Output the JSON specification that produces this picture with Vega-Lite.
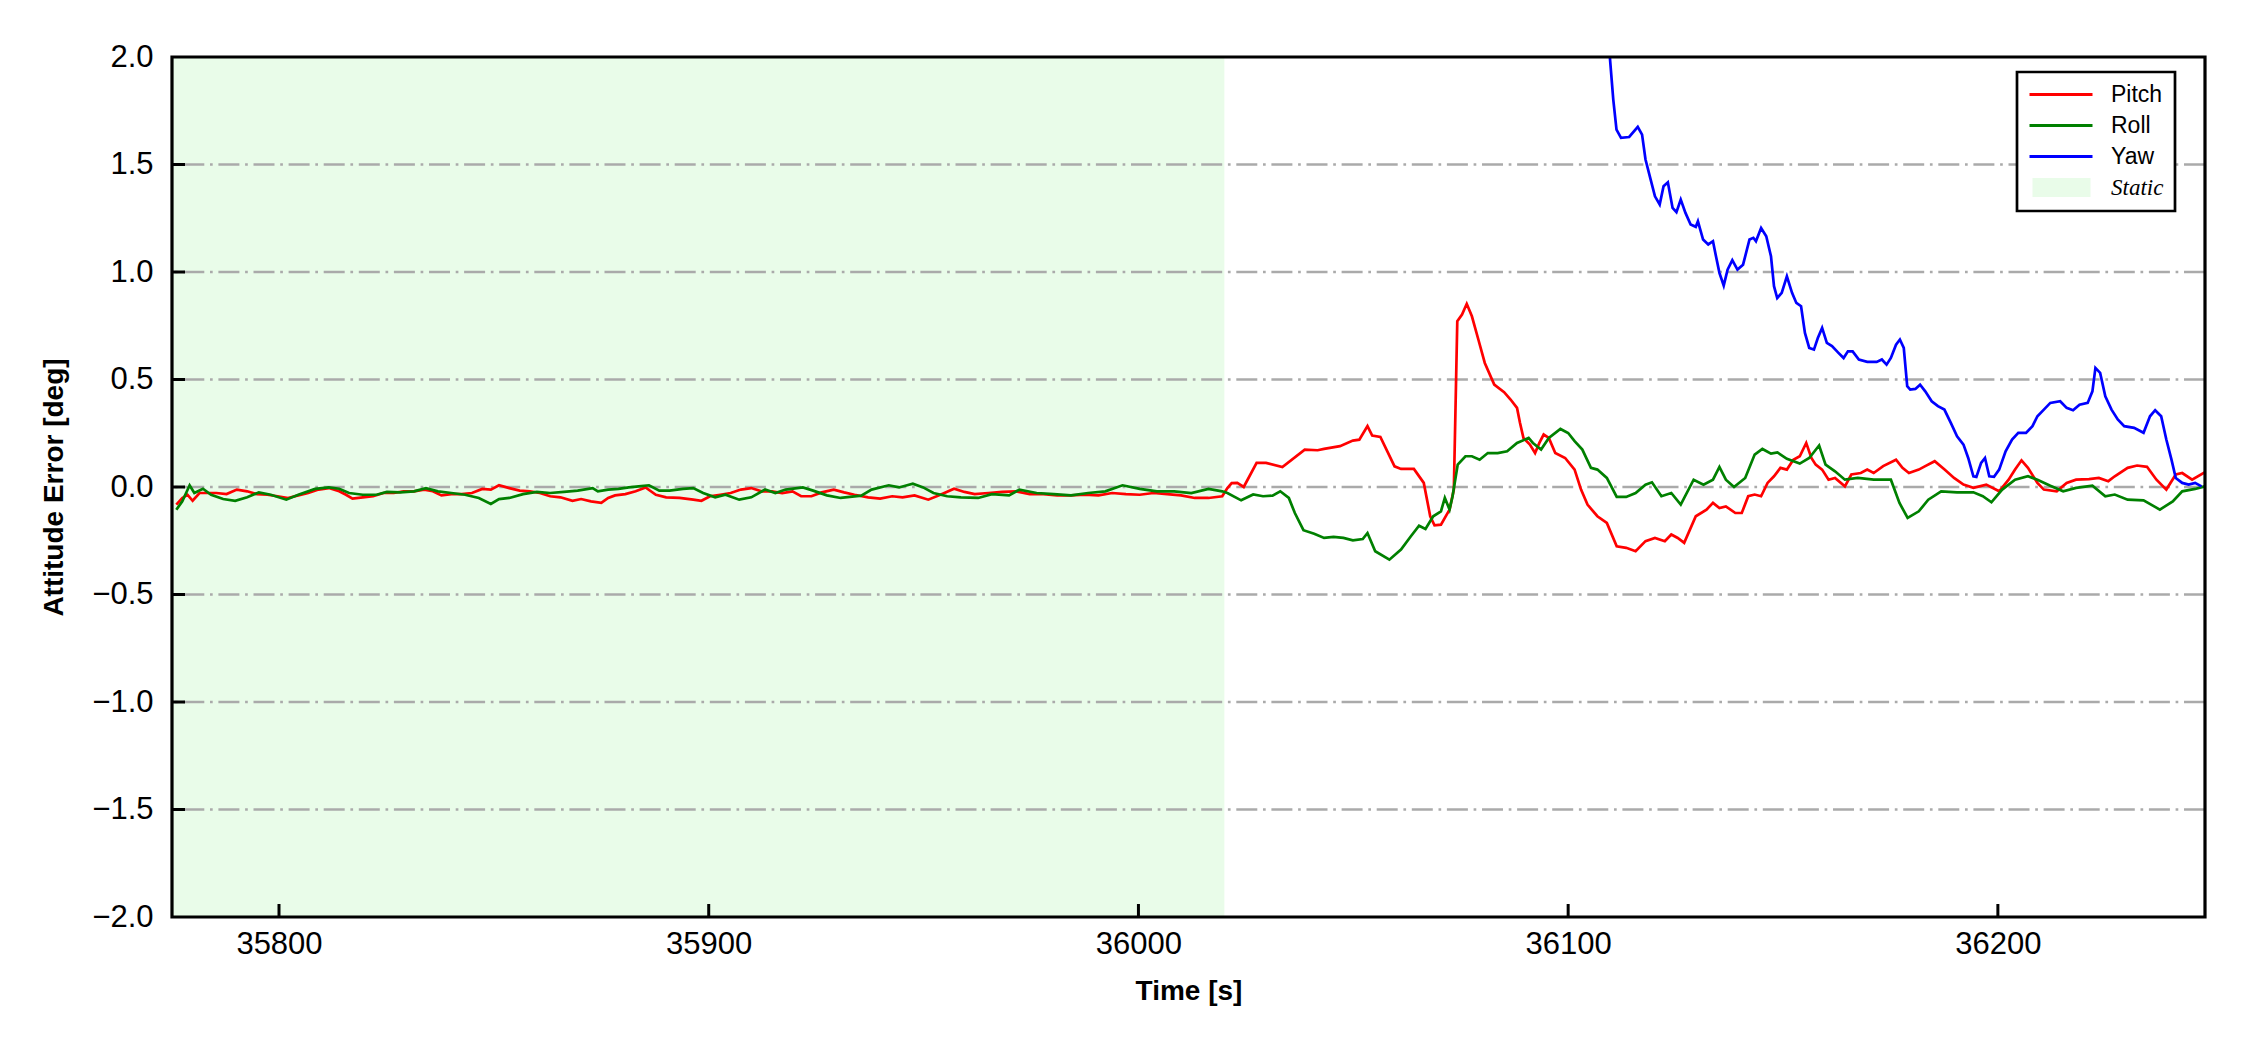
{
  "$schema": "https://vega.github.io/schema/vega-lite/v6.json",
  "width": 2033,
  "height": 860,
  "autosize": {"type": "none"},
  "padding": {"left": 172, "top": 57, "right": 45, "bottom": 133},
  "background": "white",
  "config": {
    "font": "Liberation Sans",
    "view": {"stroke": null},
    "axis": {
      "grid": false,
      "labelFont": "Liberation Sans",
      "titleFont": "Liberation Sans",
      "labelFontSize": 31,
      "titleFontSize": 28,
      "titleFontWeight": "bold",
      "labelOverlap": false,
      "labelColor": "black",
      "titleColor": "black",
      "zindex": 1
    }
  },
  "datasets": {
    "static": [{"start": 35775.1, "end": 36020, "s": "Static"}],
    "grid": [{"g": -1.5}, {"g": -1.0}, {"g": -0.5}, {"g": 0.0}, {"g": 0.5}, {"g": 1.0}, {"g": 1.5}],
    "xticks": [{"x": 35800}, {"x": 35900}, {"x": 36000}, {"x": 36100}, {"x": 36200}],
    "frame": [{"x0": 35775.1, "x1": 36248.2, "y0": -2, "y1": 2}],
    "att": [
      {"s":"Pitch","t":35776.1,"v":-0.082},{"s":"Pitch","t":35777.5,"v":-0.051},{"s":"Pitch","t":35778.7,"v":-0.036},{"s":"Pitch","t":35779.9,"v":-0.064},{"s":"Pitch","t":35781.5,"v":-0.028},{"s":"Pitch","t":35783.0,"v":-0.028},{"s":"Pitch","t":35785.4,"v":-0.028},{"s":"Pitch","t":35787.8,"v":-0.033},{"s":"Pitch","t":35790.2,"v":-0.012},{"s":"Pitch","t":35792.6,"v":-0.020},{"s":"Pitch","t":35794.9,"v":-0.033},{"s":"Pitch","t":35797.3,"v":-0.036},{"s":"Pitch","t":35799.7,"v":-0.043},{"s":"Pitch","t":35802.1,"v":-0.051},{"s":"Pitch","t":35804.5,"v":-0.039},{"s":"Pitch","t":35806.8,"v":-0.028},{"s":"Pitch","t":35809.2,"v":-0.012},{"s":"Pitch","t":35811.6,"v":-0.005},{"s":"Pitch","t":35814.0,"v":-0.020},{"s":"Pitch","t":35815.6,"v":-0.036},{"s":"Pitch","t":35817.1,"v":-0.054},{"s":"Pitch","t":35819.5,"v":-0.048},{"s":"Pitch","t":35821.9,"v":-0.043},{"s":"Pitch","t":35824.3,"v":-0.028},{"s":"Pitch","t":35826.7,"v":-0.028},{"s":"Pitch","t":35829.0,"v":-0.020},{"s":"Pitch","t":35831.4,"v":-0.020},{"s":"Pitch","t":35833.8,"v":-0.012},{"s":"Pitch","t":35835.8,"v":-0.020},{"s":"Pitch","t":35837.8,"v":-0.039},{"s":"Pitch","t":35840.1,"v":-0.033},{"s":"Pitch","t":35842.5,"v":-0.033},{"s":"Pitch","t":35844.9,"v":-0.028},{"s":"Pitch","t":35847.3,"v":-0.009},{"s":"Pitch","t":35849.3,"v":-0.012},{"s":"Pitch","t":35851.2,"v":0.008},{"s":"Pitch","t":35853.6,"v":-0.005},{"s":"Pitch","t":35856.0,"v":-0.017},{"s":"Pitch","t":35858.4,"v":-0.020},{"s":"Pitch","t":35860.7,"v":-0.028},{"s":"Pitch","t":35863.1,"v":-0.043},{"s":"Pitch","t":35865.5,"v":-0.048},{"s":"Pitch","t":35868.3,"v":-0.064},{"s":"Pitch","t":35870.3,"v":-0.056},{"s":"Pitch","t":35872.6,"v":-0.067},{"s":"Pitch","t":35875.0,"v":-0.074},{"s":"Pitch","t":35876.6,"v":-0.051},{"s":"Pitch","t":35878.2,"v":-0.039},{"s":"Pitch","t":35880.6,"v":-0.033},{"s":"Pitch","t":35883.0,"v":-0.020},{"s":"Pitch","t":35885.3,"v":-0.002},{"s":"Pitch","t":35887.7,"v":-0.036},{"s":"Pitch","t":35890.1,"v":-0.048},{"s":"Pitch","t":35893.2,"v":-0.051},{"s":"Pitch","t":35896.4,"v":-0.059},
      {"s":"Pitch","t":35898.3,"v":-0.064},{"s":"Pitch","t":35900.3,"v":-0.043},{"s":"Pitch","t":35902.7,"v":-0.036},{"s":"Pitch","t":35905.1,"v":-0.028},{"s":"Pitch","t":35907.5,"v":-0.012},{"s":"Pitch","t":35909.9,"v":-0.005},{"s":"Pitch","t":35912.3,"v":-0.020},{"s":"Pitch","t":35914.7,"v":-0.020},{"s":"Pitch","t":35917.1,"v":-0.028},{"s":"Pitch","t":35919.5,"v":-0.020},{"s":"Pitch","t":35921.5,"v":-0.043},{"s":"Pitch","t":35923.9,"v":-0.043},{"s":"Pitch","t":35926.3,"v":-0.025},{"s":"Pitch","t":35929.1,"v":-0.012},{"s":"Pitch","t":35931.5,"v":-0.025},{"s":"Pitch","t":35933.9,"v":-0.036},{"s":"Pitch","t":35937.1,"v":-0.048},{"s":"Pitch","t":35939.9,"v":-0.054},{"s":"Pitch","t":35942.7,"v":-0.043},{"s":"Pitch","t":35945.1,"v":-0.048},{"s":"Pitch","t":35947.9,"v":-0.039},{"s":"Pitch","t":35951.1,"v":-0.059},{"s":"Pitch","t":35953.9,"v":-0.036},{"s":"Pitch","t":35957.1,"v":-0.008},{"s":"Pitch","t":35959.5,"v":-0.023},{"s":"Pitch","t":35961.9,"v":-0.033},{"s":"Pitch","t":35965.1,"v":-0.028},{"s":"Pitch","t":35968.3,"v":-0.023},{"s":"Pitch","t":35971.5,"v":-0.020},{"s":"Pitch","t":35974.7,"v":-0.033},{"s":"Pitch","t":35977.9,"v":-0.033},{"s":"Pitch","t":35981.1,"v":-0.039},{"s":"Pitch","t":35984.3,"v":-0.039},{"s":"Pitch","t":35987.5,"v":-0.036},{"s":"Pitch","t":35990.7,"v":-0.039},{"s":"Pitch","t":35993.9,"v":-0.028},{"s":"Pitch","t":35997.1,"v":-0.033},{"s":"Pitch","t":36000.3,"v":-0.036},{"s":"Pitch","t":36003.5,"v":-0.028},{"s":"Pitch","t":36006.7,"v":-0.033},{"s":"Pitch","t":36009.9,"v":-0.039},{"s":"Pitch","t":36013.1,"v":-0.051},{"s":"Pitch","t":36016.3,"v":-0.051},{"s":"Pitch","t":36019.5,"v":-0.043},{"s":"Pitch","t":36020.7,"v":-0.005},{"s":"Pitch","t":36021.7,"v":0.018},
      {"s":"Pitch","t":36023.0,"v":0.019},{"s":"Pitch","t":36024.5,"v":0.0},{"s":"Pitch","t":36027.5,"v":0.112},{"s":"Pitch","t":36029.7,"v":0.112},{"s":"Pitch","t":36033.5,"v":0.093},{"s":"Pitch","t":36038.7,"v":0.174},{"s":"Pitch","t":36041.7,"v":0.171},{"s":"Pitch","t":36043.2,"v":0.177},{"s":"Pitch","t":36046.9,"v":0.19},{"s":"Pitch","t":36049.9,"v":0.216},{"s":"Pitch","t":36051.4,"v":0.22},{"s":"Pitch","t":36053.3,"v":0.283},{"s":"Pitch","t":36054.4,"v":0.239},{"s":"Pitch","t":36056.3,"v":0.233},{"s":"Pitch","t":36059.6,"v":0.096},{"s":"Pitch","t":36061.1,"v":0.084},{"s":"Pitch","t":36064.1,"v":0.084},{"s":"Pitch","t":36066.4,"v":0.019},{"s":"Pitch","t":36067.9,"v":-0.136},{"s":"Pitch","t":36068.9,"v":-0.178},{"s":"Pitch","t":36070.4,"v":-0.175},{"s":"Pitch","t":36072.4,"v":-0.105},{"s":"Pitch","t":36073.4,"v":-0.012},{"s":"Pitch","t":36074.2,"v":0.771},{"s":"Pitch","t":36075.3,"v":0.802},{"s":"Pitch","t":36076.4,"v":0.852},{"s":"Pitch","t":36077.6,"v":0.794},{"s":"Pitch","t":36079.1,"v":0.686},{"s":"Pitch","t":36080.6,"v":0.577},{"s":"Pitch","t":36082.8,"v":0.476},{"s":"Pitch","t":36085.1,"v":0.441},{"s":"Pitch","t":36086.6,"v":0.407},{"s":"Pitch","t":36088.1,"v":0.368},{"s":"Pitch","t":36088.8,"v":0.298},{"s":"Pitch","t":36089.6,"v":0.228},{"s":"Pitch","t":36091.1,"v":0.197},{"s":"Pitch","t":36092.3,"v":0.158},{"s":"Pitch","t":36093.3,"v":0.205},{"s":"Pitch","t":36094.3,"v":0.244},{"s":"Pitch","t":36095.5,"v":0.228},{"s":"Pitch","t":36097.0,"v":0.158},{"s":"Pitch","t":36099.3,"v":0.135},{"s":"Pitch","t":36101.5,"v":0.081},{"s":"Pitch","t":36103.0,"v":-0.012},{"s":"Pitch","t":36104.5,"v":-0.082},{"s":"Pitch","t":36106.8,"v":-0.136},{"s":"Pitch","t":36109.0,"v":-0.167},{"s":"Pitch","t":36111.3,"v":-0.276},{"s":"Pitch","t":36113.5,"v":-0.283},{"s":"Pitch","t":36115.7,"v":-0.299},{"s":"Pitch","t":36118.0,"v":-0.252},{"s":"Pitch","t":36120.2,"v":-0.237},{"s":"Pitch","t":36122.5,"v":-0.252},{"s":"Pitch","t":36124.0,"v":-0.221},{"s":"Pitch","t":36125.5,"v":-0.237},{"s":"Pitch","t":36127.0,"v":-0.260},{"s":"Pitch","t":36129.7,"v":-0.136},{"s":"Pitch","t":36132.2,"v":-0.105},{"s":"Pitch","t":36133.7,"v":-0.074},{"s":"Pitch","t":36135.2,"v":-0.098},{"s":"Pitch","t":36136.7,"v":-0.090},{"s":"Pitch","t":36138.9,"v":-0.121},{"s":"Pitch","t":36140.4,"v":-0.121},{"s":"Pitch","t":36141.9,"v":-0.043},{"s":"Pitch","t":36143.4,"v":-0.035},{"s":"Pitch","t":36144.9,"v":-0.043},{"s":"Pitch","t":36146.4,"v":0.019},{"s":"Pitch","t":36147.9,"v":0.050},{"s":"Pitch","t":36149.4,"v":0.089},{"s":"Pitch","t":36150.9,"v":0.081},{"s":"Pitch","t":36152.4,"v":0.127},{"s":"Pitch","t":36153.9,"v":0.143},{"s":"Pitch","t":36155.4,"v":0.205},{"s":"Pitch","t":36156.6,"v":0.135},{"s":"Pitch","t":36157.6,"v":0.104},{"s":"Pitch","t":36159.1,"v":0.081},{"s":"Pitch","t":36160.6,"v":0.034},{"s":"Pitch","t":36162.1,"v":0.042},{"s":"Pitch","t":36164.4,"v":0.003},{"s":"Pitch","t":36165.9,"v":0.058},{"s":"Pitch","t":36168.1,"v":0.065},{"s":"Pitch","t":36169.6,"v":0.081},{"s":"Pitch","t":36171.1,"v":0.065},{"s":"Pitch","t":36173.3,"v":0.097},{"s":"Pitch","t":36176.3,"v":0.127},{"s":"Pitch","t":36177.8,"v":0.089},{"s":"Pitch","t":36179.3,"v":0.065},{"s":"Pitch","t":36181.6,"v":0.081},{"s":"Pitch","t":36183.1,"v":0.097},{"s":"Pitch","t":36185.3,"v":0.120},{"s":"Pitch","t":36187.6,"v":0.081},{"s":"Pitch","t":36189.8,"v":0.042},{"s":"Pitch","t":36192.0,"v":0.011},{"s":"Pitch","t":36194.3,"v":-0.004},{"s":"Pitch","t":36197.3,"v":0.011},{"s":"Pitch","t":36200.3,"v":-0.020},{"s":"Pitch","t":36202.5,"v":0.034},{"s":"Pitch","t":36204.0,"v":0.081},{"s":"Pitch","t":36205.5,"v":0.124},{"s":"Pitch","t":36207.0,"v":0.089},{"s":"Pitch","t":36209.2,"v":0.019},{"s":"Pitch","t":36210.7,"v":-0.012},{"s":"Pitch","t":36213.7,"v":-0.020},{"s":"Pitch","t":36216.0,"v":0.019},{"s":"Pitch","t":36218.2,"v":0.034},{"s":"Pitch","t":36221.2,"v":0.037},{"s":"Pitch","t":36223.5,"v":0.042},{"s":"Pitch","t":36225.7,"v":0.027},{"s":"Pitch","t":36227.2,"v":0.050},{"s":"Pitch","t":36230.2,"v":0.089},{"s":"Pitch","t":36232.4,"v":0.100},{"s":"Pitch","t":36234.7,"v":0.094},{"s":"Pitch","t":36236.9,"v":0.034},{"s":"Pitch","t":36239.2,"v":-0.012},{"s":"Pitch","t":36241.4,"v":0.058},{"s":"Pitch","t":36242.9,"v":0.065},{"s":"Pitch","t":36245.2,"v":0.034},{"s":"Pitch","t":36248.1,"v":0.068},
      {"s":"Roll","t":35776.1,"v":-0.106},{"s":"Roll","t":35777.5,"v":-0.067},{"s":"Roll","t":35779.2,"v":0.008},{"s":"Roll","t":35780.3,"v":-0.028},{"s":"Roll","t":35782.3,"v":-0.008},{"s":"Roll","t":35784.2,"v":-0.036},{"s":"Roll","t":35787.0,"v":-0.056},{"s":"Roll","t":35789.8,"v":-0.064},{"s":"Roll","t":35792.6,"v":-0.048},{"s":"Roll","t":35795.3,"v":-0.025},{"s":"Roll","t":35798.1,"v":-0.036},{"s":"Roll","t":35801.7,"v":-0.059},{"s":"Roll","t":35804.5,"v":-0.036},{"s":"Roll","t":35808.4,"v":-0.009},{"s":"Roll","t":35811.6,"v":-0.002},{"s":"Roll","t":35814.0,"v":-0.008},{"s":"Roll","t":35816.3,"v":-0.028},{"s":"Roll","t":35819.5,"v":-0.036},{"s":"Roll","t":35822.7,"v":-0.036},{"s":"Roll","t":35825.1,"v":-0.023},{"s":"Roll","t":35828.2,"v":-0.025},{"s":"Roll","t":35831.4,"v":-0.020},{"s":"Roll","t":35834.2,"v":-0.005},{"s":"Roll","t":35837.0,"v":-0.020},{"s":"Roll","t":35840.1,"v":-0.028},{"s":"Roll","t":35843.3,"v":-0.036},{"s":"Roll","t":35846.5,"v":-0.051},{"s":"Roll","t":35849.3,"v":-0.079},{"s":"Roll","t":35851.2,"v":-0.056},{"s":"Roll","t":35853.6,"v":-0.051},{"s":"Roll","t":35856.8,"v":-0.033},{"s":"Roll","t":35860.0,"v":-0.023},{"s":"Roll","t":35863.1,"v":-0.028},{"s":"Roll","t":35866.3,"v":-0.023},{"s":"Roll","t":35869.5,"v":-0.017},{"s":"Roll","t":35873.0,"v":-0.005},{"s":"Roll","t":35874.2,"v":-0.020},{"s":"Roll","t":35876.6,"v":-0.012},{"s":"Roll","t":35879.0,"v":-0.009},{"s":"Roll","t":35881.4,"v":-0.002},{"s":"Roll","t":35883.7,"v":0.003},{"s":"Roll","t":35886.1,"v":0.008},{"s":"Roll","t":35888.5,"v":-0.017},{"s":"Roll","t":35890.9,"v":-0.017},{"s":"Roll","t":35894.0,"v":-0.009},{"s":"Roll","t":35896.4,"v":-0.005},
      {"s":"Roll","t":35898.7,"v":-0.028},{"s":"Roll","t":35901.5,"v":-0.048},{"s":"Roll","t":35903.9,"v":-0.036},{"s":"Roll","t":35907.1,"v":-0.059},{"s":"Roll","t":35909.9,"v":-0.048},{"s":"Roll","t":35913.1,"v":-0.012},{"s":"Roll","t":35915.5,"v":-0.028},{"s":"Roll","t":35917.9,"v":-0.012},{"s":"Roll","t":35921.9,"v":-0.002},{"s":"Roll","t":35924.3,"v":-0.017},{"s":"Roll","t":35927.5,"v":-0.039},{"s":"Roll","t":35930.7,"v":-0.051},{"s":"Roll","t":35935.5,"v":-0.040},{"s":"Roll","t":35937.9,"v":-0.012},{"s":"Roll","t":35941.9,"v":0.008},{"s":"Roll","t":35944.3,"v":-0.002},{"s":"Roll","t":35947.5,"v":0.015},{"s":"Roll","t":35949.9,"v":-0.002},{"s":"Roll","t":35952.3,"v":-0.028},{"s":"Roll","t":35955.5,"v":-0.043},{"s":"Roll","t":35958.7,"v":-0.048},{"s":"Roll","t":35962.7,"v":-0.051},{"s":"Roll","t":35965.9,"v":-0.033},{"s":"Roll","t":35969.9,"v":-0.039},{"s":"Roll","t":35972.3,"v":-0.012},{"s":"Roll","t":35976.3,"v":-0.028},{"s":"Roll","t":35980.3,"v":-0.033},{"s":"Roll","t":35984.3,"v":-0.039},{"s":"Roll","t":35988.3,"v":-0.028},{"s":"Roll","t":35992.3,"v":-0.020},{"s":"Roll","t":35996.3,"v":0.008},{"s":"Roll","t":36000.3,"v":-0.009},{"s":"Roll","t":36004.3,"v":-0.020},{"s":"Roll","t":36008.3,"v":-0.020},{"s":"Roll","t":36012.3,"v":-0.028},{"s":"Roll","t":36016.3,"v":-0.009},{"s":"Roll","t":36019.5,"v":-0.020},
      {"s":"Roll","t":36020.7,"v":-0.028},{"s":"Roll","t":36023.9,"v":-0.062},{"s":"Roll","t":36026.7,"v":-0.035},{"s":"Roll","t":36029.0,"v":-0.043},{"s":"Roll","t":36031.2,"v":-0.040},{"s":"Roll","t":36033.0,"v":-0.020},{"s":"Roll","t":36035.0,"v":-0.051},{"s":"Roll","t":36036.4,"v":-0.121},{"s":"Roll","t":36038.4,"v":-0.201},{"s":"Roll","t":36040.9,"v":-0.217},{"s":"Roll","t":36043.2,"v":-0.237},{"s":"Roll","t":36045.4,"v":-0.232},{"s":"Roll","t":36047.7,"v":-0.237},{"s":"Roll","t":36049.9,"v":-0.248},{"s":"Roll","t":36052.2,"v":-0.242},{"s":"Roll","t":36053.3,"v":-0.214},{"s":"Roll","t":36055.1,"v":-0.299},{"s":"Roll","t":36058.4,"v":-0.338},{"s":"Roll","t":36061.1,"v":-0.291},{"s":"Roll","t":36063.4,"v":-0.229},{"s":"Roll","t":36065.3,"v":-0.180},{"s":"Roll","t":36066.8,"v":-0.195},{"s":"Roll","t":36068.6,"v":-0.136},{"s":"Roll","t":36070.4,"v":-0.113},{"s":"Roll","t":36071.3,"v":-0.051},{"s":"Roll","t":36072.4,"v":-0.105},{"s":"Roll","t":36073.1,"v":-0.043},{"s":"Roll","t":36074.3,"v":0.104},{"s":"Roll","t":36076.1,"v":0.143},{"s":"Roll","t":36077.6,"v":0.143},{"s":"Roll","t":36079.4,"v":0.127},{"s":"Roll","t":36081.3,"v":0.158},{"s":"Roll","t":36083.6,"v":0.158},{"s":"Roll","t":36085.8,"v":0.166},{"s":"Roll","t":36088.1,"v":0.205},{"s":"Roll","t":36090.8,"v":0.228},{"s":"Roll","t":36091.8,"v":0.205},{"s":"Roll","t":36093.7,"v":0.174},{"s":"Roll","t":36095.5,"v":0.228},{"s":"Roll","t":36098.2,"v":0.270},{"s":"Roll","t":36100.0,"v":0.251},{"s":"Roll","t":36101.5,"v":0.213},{"s":"Roll","t":36103.3,"v":0.174},{"s":"Roll","t":36105.3,"v":0.089},{"s":"Roll","t":36106.8,"v":0.081},{"s":"Roll","t":36109.0,"v":0.042},{"s":"Roll","t":36111.3,"v":-0.046},{"s":"Roll","t":36113.5,"v":-0.046},{"s":"Roll","t":36115.7,"v":-0.028},{"s":"Roll","t":36118.0,"v":0.011},{"s":"Roll","t":36119.5,"v":0.022},{"s":"Roll","t":36121.7,"v":-0.043},{"s":"Roll","t":36124.0,"v":-0.028},{"s":"Roll","t":36126.2,"v":-0.082},{"s":"Roll","t":36129.2,"v":0.034},{"s":"Roll","t":36131.5,"v":0.011},{"s":"Roll","t":36133.7,"v":0.034},{"s":"Roll","t":36135.2,"v":0.093},{"s":"Roll","t":36136.7,"v":0.034},{"s":"Roll","t":36138.6,"v":0.0},{"s":"Roll","t":36141.2,"v":0.042},{"s":"Roll","t":36143.4,"v":0.151},{"s":"Roll","t":36145.2,"v":0.177},{"s":"Roll","t":36147.2,"v":0.155},{"s":"Roll","t":36148.7,"v":0.161},{"s":"Roll","t":36150.9,"v":0.131},{"s":"Roll","t":36153.9,"v":0.109},{"s":"Roll","t":36156.1,"v":0.135},{"s":"Roll","t":36158.4,"v":0.193},{"s":"Roll","t":36159.9,"v":0.104},{"s":"Roll","t":36162.1,"v":0.073},{"s":"Roll","t":36164.4,"v":0.034},{"s":"Roll","t":36167.4,"v":0.042},{"s":"Roll","t":36171.1,"v":0.034},{"s":"Roll","t":36175.1,"v":0.034},{"s":"Roll","t":36177.1,"v":-0.074},{"s":"Roll","t":36179.0,"v":-0.144},{"s":"Roll","t":36181.6,"v":-0.113},{"s":"Roll","t":36183.8,"v":-0.059},{"s":"Roll","t":36186.8,"v":-0.020},{"s":"Roll","t":36190.5,"v":-0.025},{"s":"Roll","t":36194.3,"v":-0.025},{"s":"Roll","t":36196.5,"v":-0.043},{"s":"Roll","t":36198.5,"v":-0.071},{"s":"Roll","t":36201.0,"v":-0.012},{"s":"Roll","t":36204.0,"v":0.034},{"s":"Roll","t":36207.0,"v":0.050},{"s":"Roll","t":36209.2,"v":0.034},{"s":"Roll","t":36212.2,"v":0.006},{"s":"Roll","t":36215.2,"v":-0.020},{"s":"Roll","t":36218.2,"v":-0.004},{"s":"Roll","t":36222.0,"v":0.006},{"s":"Roll","t":36225.0,"v":-0.043},{"s":"Roll","t":36227.2,"v":-0.035},{"s":"Roll","t":36230.2,"v":-0.059},{"s":"Roll","t":36233.9,"v":-0.062},{"s":"Roll","t":36237.7,"v":-0.105},{"s":"Roll","t":36240.7,"v":-0.067},{"s":"Roll","t":36242.9,"v":-0.020},{"s":"Roll","t":36245.9,"v":-0.009},{"s":"Roll","t":36248.1,"v":0.003},
      {"s":"Yaw","t":36108.7,"v":2.4},{"s":"Yaw","t":36109.75,"v":1.988},{"s":"Yaw","t":36110.5,"v":1.802},{"s":"Yaw","t":36111.25,"v":1.662},{"s":"Yaw","t":36112.3,"v":1.624},{"s":"Yaw","t":36114.2,"v":1.628},{"s":"Yaw","t":36116.2,"v":1.675},{"s":"Yaw","t":36117.2,"v":1.639},{"s":"Yaw","t":36118.0,"v":1.523},{"s":"Yaw","t":36119.2,"v":1.430},{"s":"Yaw","t":36120.2,"v":1.352},{"s":"Yaw","t":36121.3,"v":1.314},{"s":"Yaw","t":36122.2,"v":1.399},{"s":"Yaw","t":36123.2,"v":1.417},{"s":"Yaw","t":36124.3,"v":1.298},{"s":"Yaw","t":36125.2,"v":1.278},{"s":"Yaw","t":36126.2,"v":1.337},{"s":"Yaw","t":36127.3,"v":1.275},{"s":"Yaw","t":36128.5,"v":1.221},{"s":"Yaw","t":36129.7,"v":1.210},{"s":"Yaw","t":36130.2,"v":1.236},{"s":"Yaw","t":36131.4,"v":1.151},{"s":"Yaw","t":36132.6,"v":1.128},{"s":"Yaw","t":36133.7,"v":1.143},{"s":"Yaw","t":36134.4,"v":1.073},{"s":"Yaw","t":36135.2,"v":0.996},{"s":"Yaw","t":36136.2,"v":0.937},{"s":"Yaw","t":36137.1,"v":1.011},{"s":"Yaw","t":36138.2,"v":1.055},{"s":"Yaw","t":36139.4,"v":1.011},{"s":"Yaw","t":36140.7,"v":1.034},{"s":"Yaw","t":36142.2,"v":1.151},{"s":"Yaw","t":36143.1,"v":1.159},{"s":"Yaw","t":36143.7,"v":1.143},{"s":"Yaw","t":36144.9,"v":1.205},{"s":"Yaw","t":36146.1,"v":1.166},{"s":"Yaw","t":36147.2,"v":1.073},{"s":"Yaw","t":36147.9,"v":0.934},{"s":"Yaw","t":36148.65,"v":0.879},{"s":"Yaw","t":36149.7,"v":0.903},{"s":"Yaw","t":36150.9,"v":0.980},{"s":"Yaw","t":36152.1,"v":0.903},{"s":"Yaw","t":36153.1,"v":0.856},{"s":"Yaw","t":36154.2,"v":0.841},{"s":"Yaw","t":36155.1,"v":0.717},{"s":"Yaw","t":36156.1,"v":0.647},{"s":"Yaw","t":36157.2,"v":0.639},{"s":"Yaw","t":36158.1,"v":0.693},{"s":"Yaw","t":36159.1,"v":0.740},{"s":"Yaw","t":36160.2,"v":0.670},{"s":"Yaw","t":36161.4,"v":0.655},{"s":"Yaw","t":36162.9,"v":0.624},{"s":"Yaw","t":36164.1,"v":0.600},{"s":"Yaw","t":36165.1,"v":0.631},{"s":"Yaw","t":36166.2,"v":0.631},{"s":"Yaw","t":36167.65,"v":0.593},{"s":"Yaw","t":36169.6,"v":0.582},{"s":"Yaw","t":36171.8,"v":0.582},{"s":"Yaw","t":36173.0,"v":0.593},{"s":"Yaw","t":36174.1,"v":0.569},{"s":"Yaw","t":36175.1,"v":0.600},{"s":"Yaw","t":36176.3,"v":0.662},{"s":"Yaw","t":36177.2,"v":0.686},{"s":"Yaw","t":36178.1,"v":0.647},{"s":"Yaw","t":36178.9,"v":0.469},{"s":"Yaw","t":36179.6,"v":0.453},{"s":"Yaw","t":36180.8,"v":0.456},{"s":"Yaw","t":36181.9,"v":0.476},{"s":"Yaw","t":36183.1,"v":0.445},{"s":"Yaw","t":36184.6,"v":0.399},{"s":"Yaw","t":36186.05,"v":0.376},{"s":"Yaw","t":36187.55,"v":0.360},{"s":"Yaw","t":36189.05,"v":0.298},{"s":"Yaw","t":36190.5,"v":0.236},{"s":"Yaw","t":36192.0,"v":0.197},{"s":"Yaw","t":36193.1,"v":0.135},{"s":"Yaw","t":36194.3,"v":0.050},{"s":"Yaw","t":36195.0,"v":0.047},{"s":"Yaw","t":36196.1,"v":0.112},{"s":"Yaw","t":36197.0,"v":0.135},{"s":"Yaw","t":36198.0,"v":0.050},{"s":"Yaw","t":36199.1,"v":0.047},{"s":"Yaw","t":36200.3,"v":0.081},{"s":"Yaw","t":36201.8,"v":0.166},{"s":"Yaw","t":36203.3,"v":0.221},{"s":"Yaw","t":36204.75,"v":0.252},{"s":"Yaw","t":36206.55,"v":0.252},{"s":"Yaw","t":36208.05,"v":0.283},{"s":"Yaw","t":36209.2,"v":0.329},{"s":"Yaw","t":36210.7,"v":0.360},{"s":"Yaw","t":36212.2,"v":0.391},{"s":"Yaw","t":36214.5,"v":0.399},{"s":"Yaw","t":36216.0,"v":0.368},{"s":"Yaw","t":36217.5,"v":0.357},{"s":"Yaw","t":36219.0,"v":0.383},{"s":"Yaw","t":36220.9,"v":0.391},{"s":"Yaw","t":36222.0,"v":0.445},{"s":"Yaw","t":36222.7,"v":0.554},{"s":"Yaw","t":36223.8,"v":0.531},{"s":"Yaw","t":36225.0,"v":0.422},{"s":"Yaw","t":36226.45,"v":0.360},{"s":"Yaw","t":36227.9,"v":0.314},{"s":"Yaw","t":36229.4,"v":0.283},{"s":"Yaw","t":36231.7,"v":0.275},{"s":"Yaw","t":36233.9,"v":0.252},{"s":"Yaw","t":36235.4,"v":0.329},{"s":"Yaw","t":36236.6,"v":0.357},{"s":"Yaw","t":36238.0,"v":0.329},{"s":"Yaw","t":36239.2,"v":0.221},{"s":"Yaw","t":36240.4,"v":0.127},{"s":"Yaw","t":36241.4,"v":0.042},{"s":"Yaw","t":36242.9,"v":0.019},{"s":"Yaw","t":36244.4,"v":0.011},{"s":"Yaw","t":36245.9,"v":0.019},{"s":"Yaw","t":36247.4,"v":0.003}
    ]
  },
  "resolve": {"axis": {"x": "independent", "y": "independent"}},
  "layer": [
    {
      "data": {"name": "static"},
      "mark": {"type": "rect", "clip": true},
      "encoding": {
        "x": {
          "field": "start", "type": "quantitative",
          "scale": {"domain": [35775.1, 36248.2], "nice": false, "zero": false},
          "axis": {
            "orient": "bottom",
            "values": [35800, 35900, 36000, 36100, 36200],
            "format": "d",
            "title": "Time [s]",
            "domain": false,
            "ticks": false,
            "labelFlush": false,
            "labelPadding": 12,
            "titlePadding": 18
          }
        },
        "x2": {"field": "end"},
        "color": {
          "field": "s", "type": "nominal",
          "scale": {"domain": ["Pitch", "Roll", "Yaw", "Static"], "range": ["#ff0000", "#008000", "#0000ff", "#e9fce9"]}
        }
      }
    },
    {
      "data": {"name": "grid"},
      "mark": {"type": "rule", "color": "#aaaaaa", "strokeWidth": 2.7, "strokeDash": [21, 5.7, 2.7, 5.7]},
      "encoding": {
        "y": {
          "field": "g", "type": "quantitative",
          "scale": {"domain": [-2, 2], "nice": false, "zero": false},
          "axis": {
            "orient": "left",
            "values": [-2, -1.5, -1, -0.5, 0, 0.5, 1, 1.5, 2],
            "format": ".1f",
            "title": "Attitude Error [deg]",
            "domain": false,
            "ticks": false,
            "labelFlush": false,
            "labelPadding": 19,
            "titlePadding": 23
          }
        }
      }
    },
    {
      "data": {"name": "att"},
      "mark": {"type": "line", "strokeWidth": 2.7, "clip": true},
      "encoding": {
        "x": {
          "field": "t", "type": "quantitative",
          "scale": {"domain": [35775.1, 36248.2], "nice": false, "zero": false},
          "axis": null
        },
        "y": {
          "field": "v", "type": "quantitative",
          "scale": {"domain": [-2, 2], "nice": false, "zero": false},
          "axis": null
        },
        "color": {
          "field": "s", "type": "nominal",
          "scale": {"domain": ["Pitch", "Roll", "Yaw", "Static"], "range": ["#ff0000", "#008000", "#0000ff", "#e9fce9"]},
          "legend": {
            "orient": "none",
            "legendX": 1845,
            "legendY": 15,
            "title": null,
            "padding": 11,
            "rowPadding": 7,
            "symbolSize": 400,
            "symbolStrokeWidth": 3,
            "labelFontSize": 23,
            "labelFont": "Liberation Sans",
            "labelColor": "black",
            "labelOffset": 60,
            "fillColor": "white",
            "strokeColor": "black",
            "encode": {
              "legend": {"update": {"stroke": {"value": "black"}, "strokeWidth": {"value": 2.7}}},
              "symbols": {"update": {
                "shape": {"signal": "datum.value === 'Static' ? 'M-0.7,-0.95H5.1V0.95H-0.7Z' : 'M-1,0H5.3'"},
                "fill": {"signal": "datum.value === 'Static' ? '#e9fce9' : 'transparent'"},
                "stroke": {"signal": "datum.value === 'Pitch' ? '#ff0000' : datum.value === 'Roll' ? '#008000' : datum.value === 'Yaw' ? '#0000ff' : 'transparent'"},
                "strokeWidth": {"signal": "datum.value === 'Static' ? 0 : 3"},
                "opacity": {"value": 1}
              }},
              "labels": {"update": {
                "font": {"signal": "datum.value === 'Static' ? 'Liberation Serif' : 'Liberation Sans'"},
                "fontStyle": {"signal": "datum.value === 'Static' ? 'italic' : 'normal'"}
              }}
            }
          }
        }
      }
    },
    {
      "data": {"name": "xticks"},
      "mark": {"type": "rule", "color": "black", "strokeWidth": 3, "y2Offset": -13, "clip": false},
      "encoding": {
        "x": {"field": "x", "type": "quantitative", "scale": {"domain": [35775.1, 36248.2], "nice": false, "zero": false}, "axis": null},
        "y": {"datum": -2, "type": "quantitative", "scale": {"domain": [-2, 2], "nice": false, "zero": false}, "axis": null},
        "y2": {"datum": -2}
      }
    },
    {
      "data": {"name": "grid"},
      "mark": {"type": "rule", "color": "black", "strokeWidth": 3, "x2Offset": 13, "clip": false},
      "encoding": {
        "y": {"field": "g", "type": "quantitative", "scale": {"domain": [-2, 2], "nice": false, "zero": false}, "axis": null},
        "x": {"datum": 35775.1, "type": "quantitative", "scale": {"domain": [35775.1, 36248.2], "nice": false, "zero": false}, "axis": null},
        "x2": {"datum": 35775.1}
      }
    },
    {
      "data": {"name": "frame"},
      "mark": {"type": "rect", "fill": null, "fillOpacity": 0, "stroke": "black", "strokeWidth": 3.2, "clip": false},
      "encoding": {
        "x": {"field": "x0", "type": "quantitative", "scale": {"domain": [35775.1, 36248.2], "nice": false, "zero": false}, "axis": null},
        "x2": {"field": "x1"},
        "y": {"field": "y0", "type": "quantitative", "scale": {"domain": [-2, 2], "nice": false, "zero": false}, "axis": null},
        "y2": {"field": "y1"}
      }
    }
  ]
}
